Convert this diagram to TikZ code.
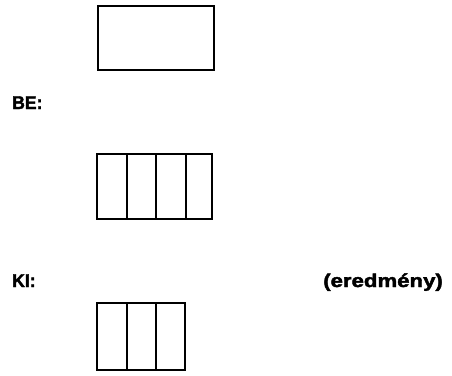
\documentclass[tikz,border=0pt]{standalone}
\usepackage{fontspec}
\setmainfont{Liberation Sans}
\newfontfamily\heavyfont[BoldFont={Liberation Sans Bold},BoldFeatures={FakeBold=2}]{Liberation Sans}
\begin{document}
\begin{tikzpicture}[x=1pt,y=-1pt,
  cell/.style={draw=black,line width=1.8pt},
  lbl/.style={inner sep=0pt,anchor=base west,font=\fontsize{18.5}{20}\heavyfont\bfseries}]
\useasboundingbox (0,0) rectangle (452,375);
% top box
\node[cell,minimum width=116pt,minimum height=64pt,inner sep=0pt,anchor=north west] (top) at (97,5) {};
% BE label
\node[lbl] (be) at (12,109) {\scalebox{0.95}[1]{BE:}};
% middle box with 4 cells
\coordinate (m0) at (97,154);
\coordinate (m4) at (212,219);
\draw[cell] (m0) rectangle (m4);
\coordinate (m1a) at (127,154); \coordinate (m1b) at (127,219);
\coordinate (m2a) at (156,154); \coordinate (m2b) at (156,219);
\coordinate (m3a) at (186,154); \coordinate (m3b) at (186,219);
\draw[cell] (m1a) -- (m1b) (m2a) -- (m2b) (m3a) -- (m3b);
% KI label and result
\node[lbl] (ki) at (12,287) {\scalebox{0.95}[1]{KI:}};
\node[lbl] (ered) at (323,287) {\scalebox{1.2}[1]{(eredmény)}};
% bottom box with 3 cells
\coordinate (b0) at (97,303);
\coordinate (b3) at (185,370);
\draw[cell] (b0) rectangle (b3);
\coordinate (b1a) at (127,303); \coordinate (b1b) at (127,370);
\coordinate (b2a) at (156,303); \coordinate (b2b) at (156,370);
\draw[cell] (b1a) -- (b1b) (b2a) -- (b2b);
\end{tikzpicture}
\end{document}
